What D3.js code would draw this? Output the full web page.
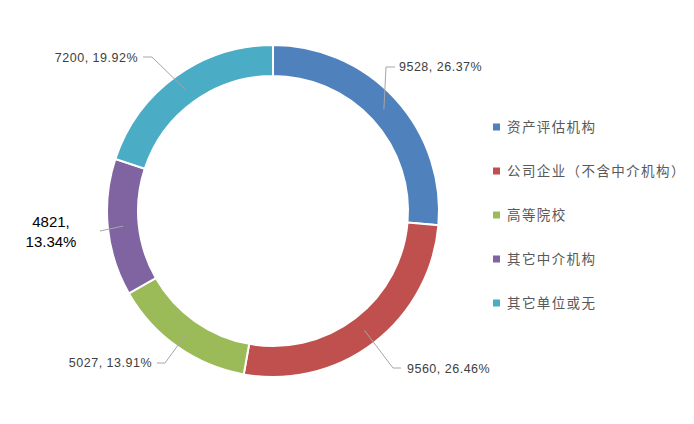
<!DOCTYPE html>
<html>
<head>
<meta charset="utf-8">
<script src="https://cdn.jsdelivr.net/npm/d3@7"></script>
<style>
  html, body { margin: 0; padding: 0; background: #fff; }
  svg { display: block; }
</style>
</head>
<body>
<script>
// chart data
const categories = ['资产评估机构', '公司企业（不含中介机构）', '高等院校', '其它中介机构', '其它单位或无'];
const values = [9528, 9560, 5027, 4821, 7200];
const percents = ['26.37%', '26.46%', '13.91%', '13.34%', '19.92%'];
const colors = ['#4F81BD', '#C0504D', '#9BBB59', '#8064A2', '#4BACC6'];

// where each data label sits (text anchor point, elbow of leader line)
const labelPos = [
    { x: 399, y: 71, anchor: 'start', elbow: [386, 67], end: [395, 67] },
    { x: 407, y: 373, anchor: 'start', elbow: [393, 368], end: [401, 368] },
    { x: 152, y: 367, anchor: 'end', elbow: [165, 363], end: [157, 363] },
    { x: 51, y: 227, anchor: 'middle', elbow: null, end: [100, 231] },
    { x: 138, y: 62, anchor: 'end', elbow: [152, 57], end: [143, 57] }
];

const width = 694, height = 424;
const cx = 273, cy = 211;
const outerR = 166, innerR = 135;

const svg = d3.select('body').append('svg')
    .attr('width', width)
    .attr('height', height);

svg.append('rect')
    .attr('width', width)
    .attr('height', height)
    .attr('fill', '#fff');

const pie = d3.pie().sort(null).value(d => d);
const arcs = pie(values);

const arc = d3.arc().innerRadius(innerR).outerRadius(outerR);

const g = svg.append('g').attr('transform', `translate(${cx},${cy})`);

g.selectAll('path.slice')
    .data(arcs)
    .enter()
    .append('path')
    .attr('class', 'slice')
    .attr('d', arc)
    .attr('fill', (d, i) => colors[i])
    .attr('stroke', '#fff')
    .attr('stroke-width', 2);

// leader lines
arcs.forEach((d, i) => {
    const c = arc.centroid(d);
    const lp = labelPos[i];
    const pts = [[cx + c[0], cy + c[1]]];
    if (lp.elbow) pts.push(lp.elbow);
    pts.push(lp.end);
    svg.append('path')
        .attr('d', d3.line()(pts))
        .attr('fill', 'none')
        .attr('stroke', '#A6A6A6')
        .attr('stroke-width', 1);
});

// data labels
arcs.forEach((d, i) => {
    const lp = labelPos[i];
    if (i === 3) {
        const t = svg.append('text')
            .attr('x', lp.x)
            .attr('y', lp.y)
            .attr('text-anchor', 'middle')
            .attr('font-family', 'Liberation Sans, Arial, sans-serif')
            .attr('font-size', 15)
            .attr('fill', '#000');
        t.append('tspan').attr('x', lp.x).text(values[i] + ',');
        t.append('tspan').attr('x', lp.x).attr('dy', 20).text(percents[i]);
    } else {
        svg.append('text')
            .attr('x', lp.x)
            .attr('y', lp.y)
            .attr('text-anchor', lp.anchor)
            .attr('font-family', 'Liberation Sans, Arial, sans-serif')
            .attr('font-size', 12.5)
            .attr('letter-spacing', 0.5)
            .attr('fill', '#404040')
            .text(`${values[i]}, ${percents[i]}`);
    }
});

// legend
const legend = svg.append('g').attr('transform', 'translate(493,127)');
const rows = legend.selectAll('g')
    .data(categories)
    .enter()
    .append('g')
    .attr('transform', (d, i) => `translate(0,${i * 44})`);

rows.append('rect')
    .attr('x', 0)
    .attr('y', -3.5)
    .attr('width', 7)
    .attr('height', 7)
    .attr('fill', (d, i) => colors[i]);

rows.append('text')
    .attr('x', 14)
    .attr('y', 5)
    .attr('font-family', 'Noto Sans CJK SC, sans-serif')
    .attr('font-size', 13.5)
    .attr('letter-spacing', 1.4)
    .attr('fill', '#595959')
    .text(d => d);
</script>
</body>
</html>
